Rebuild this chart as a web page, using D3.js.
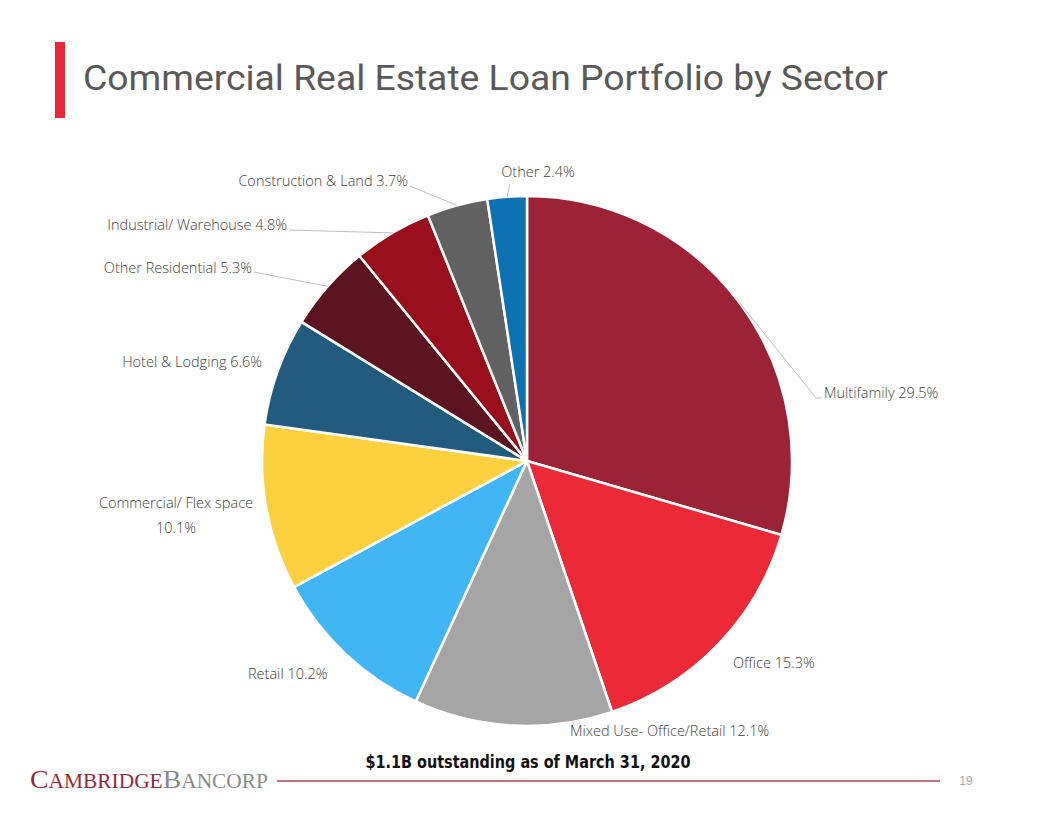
<!DOCTYPE html>
<html><head><meta charset="utf-8">
<script src="https://cdn.jsdelivr.net/npm/d3@7"></script>
<style>body{margin:0;background:#fff}svg{display:block}</style>
</head><body>
<svg id="c" width="1056" height="816"></svg>
<script>
const sectors = ["Multifamily","Office","Mixed Use- Office/Retail","Retail","Commercial/ Flex space","Hotel & Lodging","Other Residential","Industrial/ Warehouse","Construction & Land","Other"];
const shares = [29.5,15.3,12.1,10.2,10.1,6.6,5.3,4.8,3.7,2.4];
const colors = ["#9b2335","#ec2937","#a5a5a5","#41b6f5","#fdd03f","#215c7e","#5b1420","#980e1b","#616161","#0c72b2"];
const title = "Commercial Real Estate Loan Portfolio by Sector";
const subtitle = "$1.1B outstanding as of March 31, 2020";

// label layout (anchor x, baseline y, text-anchor, leader)
const labelLayout = [
  {x:824,y:398,a:"start",lead:[[816,398],[822,398]]},
  {x:733,y:668,a:"start"},
  {x:570,y:736,a:"start"},
  {x:248,y:679,a:"start"},
  {x:176,y:508,a:"middle",twoLine:true},
  {x:262,y:367,a:"end"},
  {x:252,y:273,a:"end",lead:[[254,272]]},
  {x:287,y:230,a:"end",lead:[[289,230]]},
  {x:408,y:186,a:"end",lead:[[410,186]]},
  {x:538,y:177,a:"middle",lead:[[510,184]]}
];

const svg = d3.select("#c");
const cx = 527, cy = 461, R = 265;

// header
svg.append("rect").attr("x",55).attr("y",42).attr("width",10).attr("height",76).attr("fill","#e8283a");
svg.append("text").attr("x",83).attr("y",90).text(title)
  .attr("font-family","Roboto, 'DejaVu Sans Condensed', sans-serif").attr("font-size",35)
  .attr("fill","#595959").attr("textLength",805).attr("lengthAdjust","spacingAndGlyphs");

const pie = d3.pie().sort(null).value(d=>d)(shares);
const arc = d3.arc().innerRadius(0).outerRadius(R);
const g = svg.append("g").attr("transform",`translate(${cx},${cy})`);
g.selectAll("path").data(pie).join("path")
  .attr("d",arc).attr("fill",(d,i)=>colors[i])
  .attr("stroke","#fff").attr("stroke-width",2.5).attr("stroke-linejoin","round");

// leader lines
const lead = svg.append("g").attr("fill","none").attr("stroke","#bfbfbf").attr("stroke-width",1);
pie.forEach((d,i)=>{
  const L = labelLayout[i];
  if(!L.lead) return;
  const m = (d.startAngle+d.endAngle)/2;
  const p0 = [cx + R*Math.sin(m), cy - R*Math.cos(m)];
  const pts = [p0, ...L.lead];
  lead.append("path").attr("d", d3.line()(pts));
});

// labels
const lab = svg.append("g").attr("font-family","'Open Sans', sans-serif").attr("font-size",14.5)
  .attr("fill","#404040").attr("font-weight",300);
sectors.forEach((s,i)=>{
  const L = labelLayout[i];
  const t = lab.append("text").attr("x",L.x).attr("y",L.y).attr("text-anchor",L.a);
  if(L.twoLine){
    t.append("tspan").attr("x",L.x).text(s);
    t.append("tspan").attr("x",L.x).attr("dy",25).text(shares[i].toFixed(1)+"%");
  } else {
    t.text(s + " " + shares[i].toFixed(1)+"%");
  }
});

// footer
svg.append("text").attr("x",528).attr("y",768).attr("text-anchor","middle").text(subtitle)
  .attr("font-family","'Liberation Sans Narrow','DejaVu Sans Condensed',sans-serif").attr("font-weight","bold")
  .attr("font-size",17).attr("fill","#111").attr("textLength",325).attr("lengthAdjust","spacingAndGlyphs");
const logo = svg.append("text").attr("x",30).attr("y",788).attr("font-family","'Liberation Serif',serif")
  .attr("textLength",238).attr("lengthAdjust","spacingAndGlyphs");
logo.append("tspan").attr("fill","#8e2b3b").attr("font-size",26).text("C");
logo.append("tspan").attr("fill","#8e2b3b").attr("font-size",20).text("AMBRIDGE");
logo.append("tspan").attr("fill","#8a8a8a").attr("font-size",26).text("B");
logo.append("tspan").attr("fill","#8a8a8a").attr("font-size",20).text("ANCORP");
svg.append("line").attr("x1",277).attr("x2",940).attr("y1",781).attr("y2",781).attr("stroke","#a3495a").attr("stroke-width",1.5);
svg.append("text").attr("x",966).attr("y",785).attr("text-anchor","middle").text("19")
  .attr("font-family","'Liberation Sans',sans-serif").attr("font-size",12).attr("fill","#a6a6a6");
</script>
</body></html>
